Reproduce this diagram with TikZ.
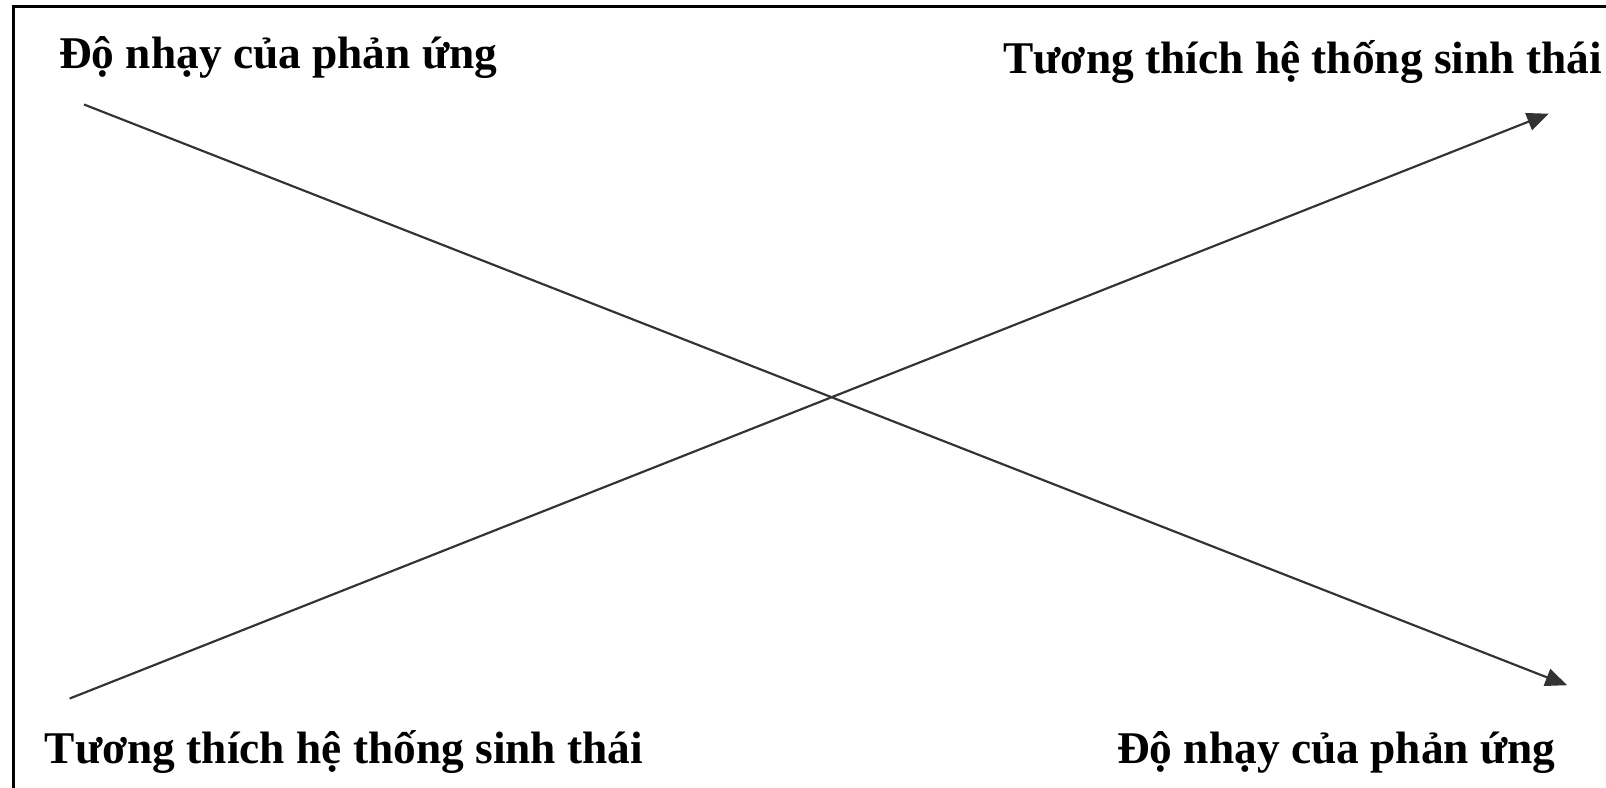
\documentclass[tikz,border=0pt]{standalone}
\usepackage{fontspec}
\setmainfont{Liberation Serif}
\usetikzlibrary{arrows.meta}
\begin{document}
\begin{tikzpicture}[x=0.01cm,y=-0.01cm,
  lbl/.style={inner sep=0pt,anchor=base west,font=\bfseries\fontsize{12.6}{15}\selectfont},
  conn/.style={draw=black!80,line width=0.6pt,-{Triangle[length=6pt,width=5pt]}}]
\useasboundingbox (0,0) rectangle (1568,768.4);
\begin{scope}
\clip (0,0) rectangle (1568,768.4);
\draw[line width=0.85pt] (13,6) rectangle (1600,800);
\end{scope}
\node[lbl] (tl) at (57,67) {Độ nhạy của phản ứng};
\node[lbl] (tr) at (979,72) {Tương thích hệ thống sinh thái};
\node[lbl] (bl) at (43,745) {Tương thích hệ thống sinh thái};
\node[lbl] (br) at (1090,745) {Độ nhạy của phản ứng};
\coordinate (a1) at (82,102);
\coordinate (a2) at (1530,669);
\coordinate (b1) at (68,682);
\coordinate (b2) at (1512,111);
\draw[conn] (a1) -- (a2);
\draw[conn] (b1) -- (b2);
\end{tikzpicture}
\end{document}
